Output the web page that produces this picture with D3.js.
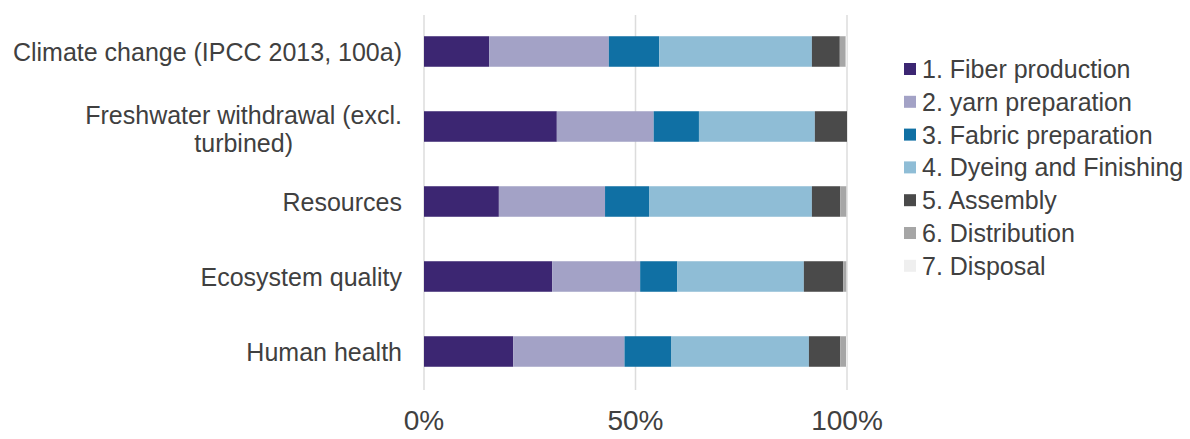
<!DOCTYPE html>
<html>
<head>
<meta charset="utf-8">
<script src="https://cdn.jsdelivr.net/npm/d3@7"></script>
<style>
  html, body { margin: 0; padding: 0; background: #fff; }
  svg { display: block; font-family: "Liberation Sans", Arial, Helvetica, sans-serif; }
</style>
</head>
<body>
<svg id="chart" width="1190" height="439"></svg>
<script>
const categories = [
  "Climate change (IPCC 2013, 100a)",
  "Freshwater withdrawal (excl. turbined)",
  "Resources",
  "Ecosystem quality",
  "Human health"
];
const categoryLines = [
  ["Climate change (IPCC 2013, 100a)"],
  ["Freshwater withdrawal (excl.", "turbined)"],
  ["Resources"],
  ["Ecosystem quality"],
  ["Human health"]
];
const stages = [
  "1. Fiber production",
  "2. yarn preparation",
  "3. Fabric preparation",
  "4. Dyeing and Finishing",
  "5. Assembly",
  "6. Distribution",
  "7. Disposal"
];
// shares (%) per category, in stage order
const fiberProduction   = [15.4, 31.4, 17.7, 30.3, 21.1];
const yarnPreparation   = [28.3, 22.9, 25.1, 20.8, 26.3];
const fabricPreparation = [11.9, 10.7, 10.4,  8.8, 11.1];
const dyeingFinishing   = [36.1, 27.4, 38.5, 29.9, 32.5];
const assembly          = [ 6.6,  7.6,  6.7,  9.3,  7.4];
const distribution      = [ 1.4,  0.0,  1.5,  0.8,  1.4];
const disposal          = [ 0.3,  0.0,  0.1,  0.1,  0.2];
const xTicks = [0, 50, 100];
const xTickLabels = ["0%", "50%", "100%"];

const colors = ["#3c2672", "#a3a2c6", "#1070a4", "#8fbdd6", "#4a4a4a", "#a6a6a6", "#efefef"];

const seriesArrays = [fiberProduction, yarnPreparation, fabricPreparation, dyeingFinishing, assembly, distribution, disposal];
const rows = categories.map((c, i) => {
  const r = { category: c };
  stages.forEach((s, j) => r[s] = seriesArrays[j][i]);
  return r;
});

const svg = d3.select("#chart");
const x = d3.scaleLinear().domain([0, 100]).range([424, 847]);
const y = d3.scaleBand().domain(categories).range([14, 389]).paddingInner(0.593).paddingOuter(0.2965);
const color = d3.scaleOrdinal().domain(stages).range(colors);

// gridlines
svg.append("g").selectAll("line").data(xTicks).join("line")
  .attr("x1", d => x(d)).attr("x2", d => x(d))
  .attr("y1", 15).attr("y2", 390)
  .attr("stroke", "#dcdcdc").attr("stroke-width", 1.5);

// bars
const stacked = d3.stack().keys(stages)(rows);
svg.append("g").selectAll("g").data(stacked).join("g")
  .attr("fill", d => color(d.key))
  .selectAll("rect").data(d => d).join("rect")
  .attr("x", d => x(d[0]))
  .attr("width", d => Math.max(0, x(d[1]) - x(d[0])))
  .attr("y", d => y(d.data.category))
  .attr("height", y.bandwidth());

// category labels
const lineH = 28;
const labG = svg.append("g").attr("fill", "#404040").attr("font-size", 25);
categories.forEach((c, i) => {
  const lines = categoryLines[i];
  const cy = y(c) + y.bandwidth() / 2 + (lines.length > 1 ? 2 : 0);
  const t = labG.append("text")
    .attr("text-anchor", lines.length > 1 ? "middle" : "end")
    .attr("dominant-baseline", "central");
  if (lines.length === 1) {
    t.attr("x", 402).attr("y", cy).text(lines[0]);
  } else {
    const tmp = labG.append("text").text(lines[0]);
    const w = tmp.node().getComputedTextLength();
    tmp.remove();
    const cx = 402 - w / 2;
    lines.forEach((l, k) => {
      t.append("tspan").attr("x", cx)
        .attr("y", cy + (k - (lines.length - 1) / 2) * lineH)
        .text(l);
    });
  }
});

// x axis labels
svg.append("g").attr("fill", "#404040").attr("font-size", 28).attr("text-anchor", "middle")
  .selectAll("text").data(xTicks).join("text")
  .attr("x", d => x(d)).attr("y", 430)
  .text((d, i) => xTickLabels[i]);

// legend
const leg = svg.append("g").attr("transform", "translate(904,69)");
const item = leg.selectAll("g").data(stages).join("g")
  .attr("transform", (d, i) => `translate(0,${i * 32.8})`);
item.append("rect").attr("x", 0).attr("y", -6).attr("width", 12).attr("height", 12)
  .attr("fill", d => color(d));
item.append("text").attr("x", 18).attr("y", 0).attr("dominant-baseline", "central")
  .attr("font-size", 25).attr("fill", "#404040").text(d => d);
</script>
</body>
</html>
